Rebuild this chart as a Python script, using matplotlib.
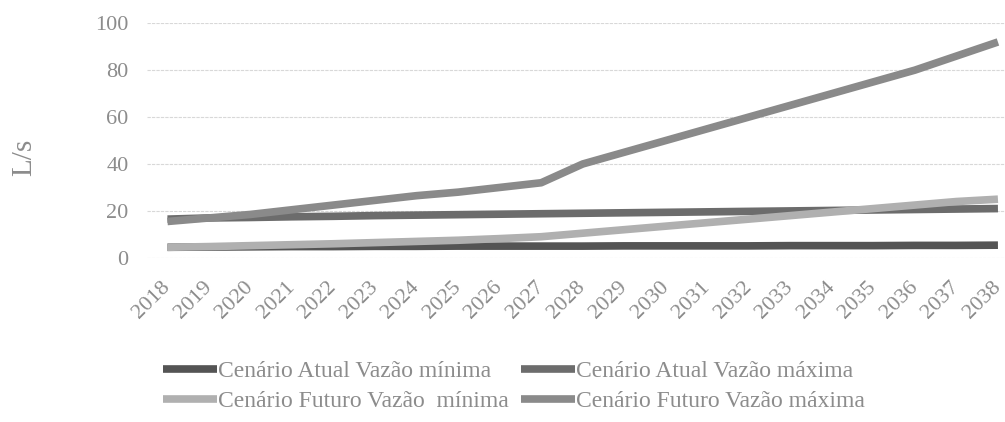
import matplotlib.pyplot as plt
import numpy as np

years = [str(y) for y in range(2018, 2039)]

atual_min = [4.5, 4.6, 4.7, 4.8, 4.8, 4.9, 4.9, 5.0, 5.0, 5.0, 5.0, 5.1, 5.1, 5.1, 5.1, 5.2, 5.2, 5.2, 5.3, 5.3, 5.4]
atual_max = [16.5, 17.0, 17.2, 17.5, 17.7, 18.0, 18.2, 18.4, 18.6, 18.8, 19.0, 19.2, 19.4, 19.6, 19.8, 20.0, 20.2, 20.4, 20.6, 20.8, 21.0]
futuro_min = [4.5, 4.8, 5.2, 5.6, 6.0, 6.5, 7.0, 7.5, 8.2, 9.0, 10.5, 12.0, 13.5, 15.0, 16.5, 18.0, 19.5, 21.0, 22.5, 24.0, 25.0]
futuro_max = [15.5, 17.0, 18.5, 20.5, 22.5, 24.5, 26.5, 28.0, 30.0, 32.0, 40.0, 45.0, 50.0, 55.0, 60.0, 65.0, 70.0, 75.0, 80.0, 86.0, 92.0]

labels = ["Cenário Atual Vazão mínima", "Cenário Atual Vazão máxima",
          "Cenário Futuro Vazão  mínima", "Cenário Futuro Vazão máxima"]
colors = ["#545454", "#6c6c6c", "#b0b0b0", "#8a8a8a"]

plt.rcParams['font.family'] = ['Liberation Serif', 'DejaVu Serif']

fig = plt.figure(figsize=(10.05, 4.22), dpi=100)
ax = fig.add_axes([0.146, 0.389, 0.854, 0.556])

x = np.arange(len(years))
lines = []
for data, c in zip([atual_min, atual_max, futuro_min, futuro_max], colors):
    l, = ax.plot(x, data, color=c, lw=5.5, solid_capstyle='butt')
    lines.append(l)

ax.set_xlim(-0.5, 20.17)
ax.set_ylim(0, 100)
ax.set_yticks([0, 20, 40, 60, 80, 100])
ax.set_xticks(x)
ax.set_xticklabels(years, rotation=45, ha='right', va='center', rotation_mode='anchor')
ax.tick_params(length=0, colors='#8c8c8c', labelsize=16)
ax.tick_params(axis='x', pad=19)
ax.tick_params(axis='y', pad=13)
for s in ax.spines.values():
    s.set_visible(False)
ax.grid(axis='y', color='#d8d8d8', lw=0.8, ls=(0, (3, 1)))
ax.set_axisbelow(True)
ax.set_ylabel("L/s", color='#8c8c8c', fontsize=21)
ax.yaxis.set_label_coords(-0.128, 0.43)

# legend fills by column, so order the handles to read row by row
order = [0, 2, 1, 3]
fig.legend([lines[i] for i in order], [labels[i] for i in order], ncol=2,
           loc='upper left', bbox_to_anchor=(0.162, 0.146), frameon=False,
           fontsize=17, handlelength=2.3, handletextpad=0.05,
           columnspacing=0.5, labelcolor='#8c8c8c', labelspacing=0.36,
           borderpad=0, borderaxespad=0)

plt.savefig("out.png", dpi=100)
